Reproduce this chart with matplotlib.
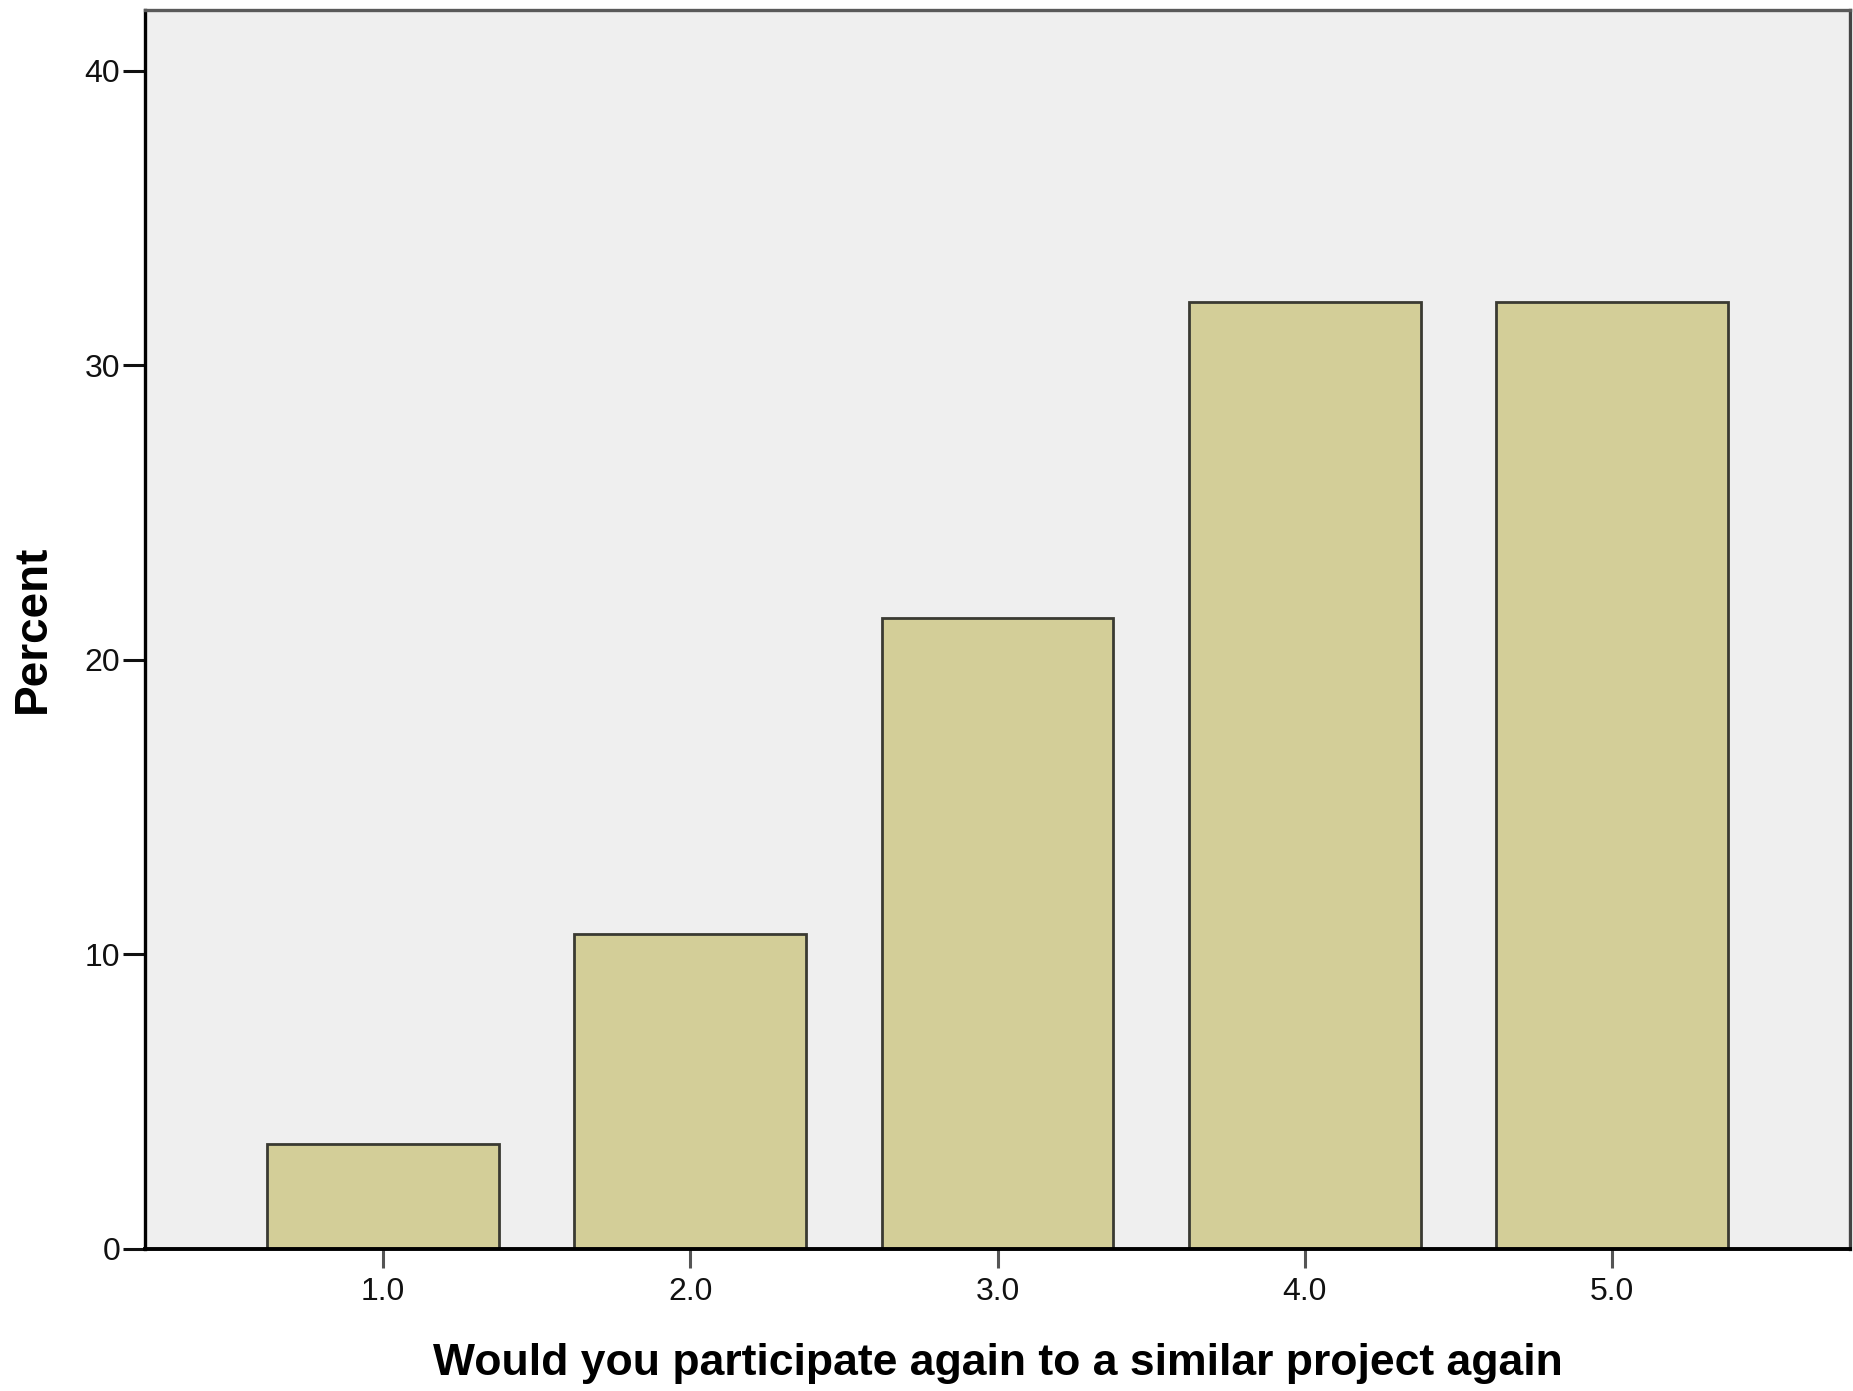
import matplotlib
matplotlib.use("Agg")
import matplotlib.pyplot as plt

categories = [1.0, 2.0, 3.0, 4.0, 5.0]
category_labels = ["1.0", "2.0", "3.0", "4.0", "5.0"]
percent = [3.57, 10.71, 21.43, 32.14, 32.14]
y_ticks = [0, 10, 20, 30, 40]
x_label = "Would you participate again to a similar project again"
y_label = "Percent"

plt.rcParams['font.family'] = ['Liberation Sans', 'DejaVu Sans']

W, H = 1853, 1391
fig = plt.figure(figsize=(W / 100, H / 100), dpi=100)
left, right, top, bottom = 145, 1850, 10, 1249
ax = fig.add_axes([left / W, 1 - bottom / H, (right - left) / W, (bottom - top) / H])
ax.set_facecolor("#EFEFEF")

ax.bar(categories, percent, width=0.755, color="#D3CE98",
       edgecolor="#3A3A32", linewidth=2.0, zorder=2)

ax.set_xlim(0.2254, 5.7746)
ax.set_ylim(0, 42.07)
ax.set_yticks(y_ticks)
ax.set_yticklabels([str(t) for t in y_ticks])
ax.set_xticks(categories)
ax.set_xticklabels(category_labels)

ax.tick_params(axis="y", direction="out", length=16, width=2.2, color="#111111",
               labelsize=23, pad=2, labelcolor="#111111")
ax.tick_params(axis="x", direction="out", length=14, width=2.2, color="#555555",
               labelsize=23, pad=6, labelcolor="#111111")

ax.spines["left"].set_color("#000000")
ax.spines["left"].set_linewidth(2.4)
ax.spines["bottom"].set_color("#000000")
ax.spines["bottom"].set_linewidth(2.8)
ax.spines["top"].set_color("#5A5A5A")
ax.spines["top"].set_linewidth(2.4)
ax.spines["right"].set_color("#444444")
ax.spines["right"].set_linewidth(2.4)

fig.text((left + right) / 2 / W, 1 - 1363 / H, x_label, ha="center", va="center",
         fontsize=32, fontweight="bold", color="#000000")
fig.text(33 / W, 1 - 629 / H, y_label, ha="center", va="center", rotation=90,
         fontsize=33, fontweight="bold", color="#000000")

fig.savefig("out.png", dpi=100, facecolor="white")
